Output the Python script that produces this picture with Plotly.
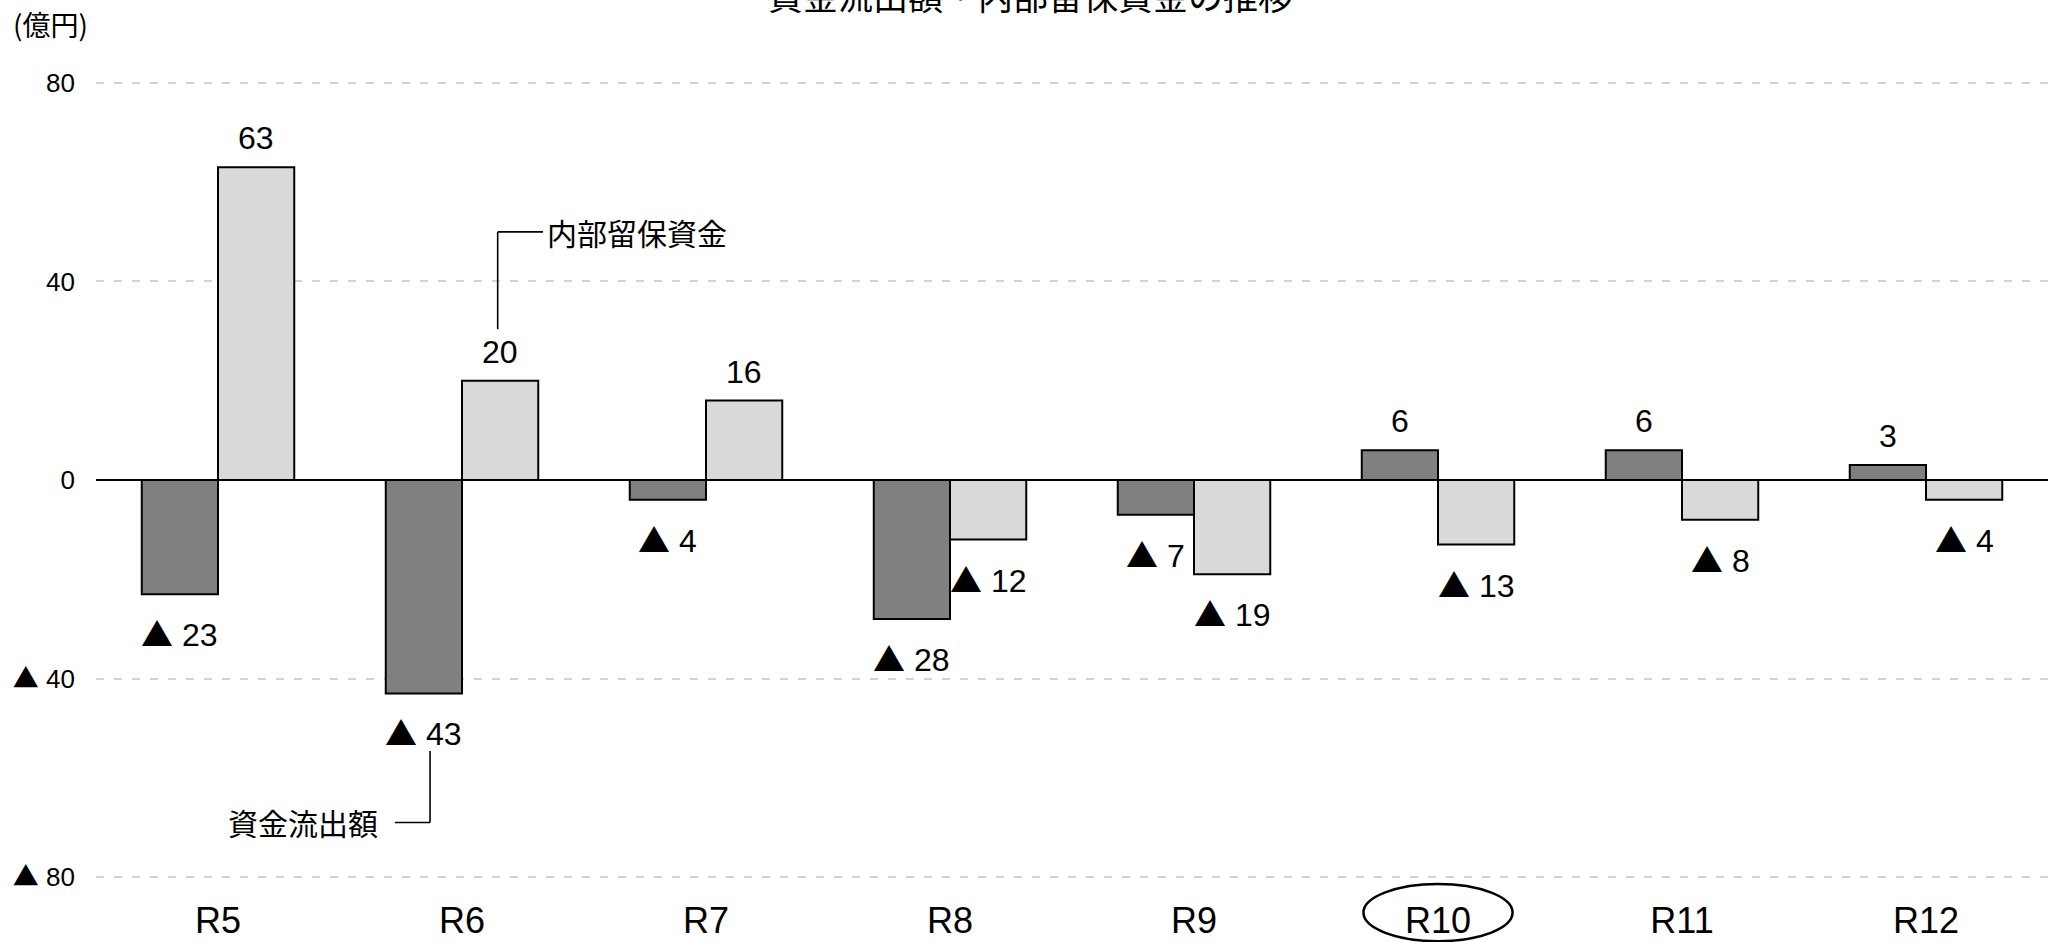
import plotly.graph_objects as go

# 年度カテゴリ
years = ["R5", "R6", "R7", "R8", "R9", "R10", "R11", "R12"]
# 資金流出額（億円）
outflow = [-23, -43, -4, -28, -7, 6, 6, 3]
# 内部留保資金（億円）
retained = [63, 20, 16, -12, -19, -13, -8, -4]
# 縦軸の目盛
y_tickvals = [-80, -40, 0, 40, 80]

LATIN = "Arial, 'Liberation Sans', sans-serif"
CJK = "'Noto Sans CJK JP', sans-serif"
TRI = "<span style=\"font-family:'Noto Sans CJK JP'\">▲</span>"
BARGAP = 0.375
HALF = (1 - BARGAP) / 4  # offset of each bar centre from the category centre


def fmt(v):
    return f"{TRI} {abs(v)}" if v < 0 else str(v)


y_ticktext = [fmt(v) for v in y_tickvals]

fig = go.Figure()
fig.add_trace(go.Bar(
    x=years, y=outflow, name="資金流出額",
    marker=dict(color="#808080", line=dict(color="black", width=2)),
))
fig.add_trace(go.Bar(
    x=years, y=retained, name="内部留保資金",
    marker=dict(color="#d9d9d9", line=dict(color="black", width=2)),
))

annotations = []
# 値ラベル
for series, off in ((outflow, -HALF), (retained, HALF)):
    for i, v in enumerate(series):
        annotations.append(dict(
            x=i + off, y=v, xref="x", yref="y", text=fmt(v), showarrow=False,
            font=dict(family=LATIN, size=32, color="black"),
            yanchor="bottom" if v >= 0 else "top",
            yshift=9 if v >= 0 else -13,
        ))

# 系列名の引き出しラベル
annotations.append(dict(
    x=1.34, y=50, xref="x", yref="y", text="内部留保資金", showarrow=False,
    xanchor="left", yanchor="middle", font=dict(family=CJK, size=30, color="black"),
))
annotations.append(dict(
    x=0.665, y=-69, xref="x", yref="y", text="資金流出額", showarrow=False,
    xanchor="right", yanchor="middle", font=dict(family=CJK, size=30, color="black"),
))

# 単位
annotations.append(dict(
    x=-0.0235, y=1.07, xref="paper", yref="paper", text="(億円)", showarrow=False,
    xanchor="center", yanchor="middle", font=dict(family=CJK, size=28, color="black"),
))
# タイトル
annotations.append(dict(
    x=0.4785, y=1.1075, xref="paper", yref="paper", text="資金流出額・内部留保資金の推移",
    showarrow=False, xanchor="center", yanchor="middle",
    font=dict(family=CJK, size=35, color="black"),
))

LEADER = dict(color="black", width=1.6)
shapes = [
    # 内部留保資金の引き出し線
    dict(type="line", xref="x", yref="y", x0=1 + HALF - 0.01, x1=1 + HALF - 0.01, y0=30.4, y1=50, line=LEADER),
    dict(type="line", xref="x", yref="y", x0=1 + HALF - 0.01, x1=1.332, y0=50, y1=50, line=LEADER),
    # 資金流出額の引き出し線
    dict(type="line", xref="x", yref="y", x0=0.869, x1=0.869, y0=-54.6, y1=-69, line=LEADER),
    dict(type="line", xref="x", yref="y", x0=0.725, x1=0.869, y0=-69, y1=-69, line=LEADER),
]

# R10 の目盛ラベルを囲む楕円
idx = years.index("R10")
cx = (idx + 0.5) / len(years)
shapes.append(dict(
    type="circle", xref="x domain", yref="paper",
    x0=cx - 0.0382, x1=cx + 0.0382, y0=-0.0765, y1=-0.005,
    line=dict(color="black", width=2.5),
))

fig.update_layout(
    width=2062, height=942,
    margin=dict(l=96, r=14, t=80, b=62),
    paper_bgcolor="white", plot_bgcolor="white",
    barmode="group", bargap=BARGAP, bargroupgap=0,
    showlegend=False,
    annotations=annotations, shapes=shapes,
    xaxis=dict(
        range=[-0.5, len(years) - 0.5], showgrid=False, showline=False, ticks="",
        tickfont=dict(family=LATIN, size=36, color="black"),
        ticklabelstandoff=16, automargin=False,
    ),
    yaxis=dict(
        range=[-80.6, 80.6], tickvals=y_tickvals, ticktext=y_ticktext,
        showgrid=True, gridcolor="#d4d4d4", gridwidth=2, griddash="8px,10px",
        zeroline=True, zerolinecolor="black", zerolinewidth=2,
        showline=False, ticks="",
        tickfont=dict(family=LATIN, size=26, color="black"),
        ticklabelstandoff=20, automargin=False,
    ),
)

fig.write_html("out.html")
